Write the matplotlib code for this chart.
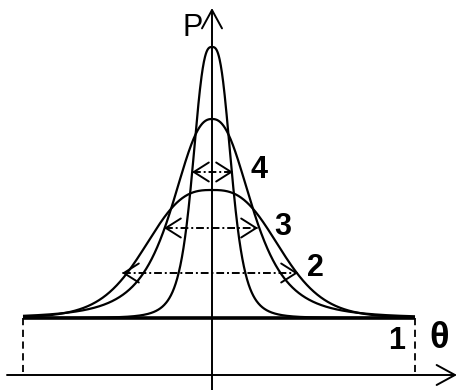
import numpy as np
import matplotlib
matplotlib.use("Agg")
import matplotlib.pyplot as plt

# three profiles, widest (2) to narrowest (4); units are pixels of the sketch
peak_heights = [128, 199, 271]
peak_widths = [116, 55, 25]
shape_p = [2.8, 2.4, 2.9]
shape_q = [3.0, 1.5, 1.5]
curve_labels = ["2", "3", "4"]

# dash-dot width markers: height, left end, right end
marker_y = [45, 90, 146]
marker_left = [-90, -48, -20]
marker_right = [86, 46, 21]

# label positions for the curve numbers
label_x = [103, 71, 47]
label_y = [50, 91, 148]

base_left, base_right = -189, 203
axis_y = -57

fig = plt.figure(figsize=(4.59, 3.90), dpi=100)
ax = fig.add_axes([0, 0, 1, 1])
ax.set_xlim(-212, 247)
ax.set_ylim(-72, 318)
ax.axis("off")

x = np.linspace(base_left, base_right, 1000)
for h, w, p, q in zip(peak_heights, peak_widths, shape_p, shape_q):
    y = h / (1 + np.abs(x / w) ** p) ** q
    ax.plot(x, y, color="black", lw=1.6, solid_capstyle="butt")

# baseline and dashed sides
ax.plot([base_left, base_right], [0, 0], color="black", lw=2.6, solid_capstyle="butt")
for bx in (base_left, base_right):
    ax.plot([bx, bx], [0, axis_y + 3], color="black", lw=1.3, ls=(0, (4, 2.5)))

# axes with arrows
head = "->, head_length=0.55, head_width=0.3"
ax.annotate("", xy=(245, axis_y), xytext=(-205, axis_y),
            arrowprops=dict(arrowstyle=head, lw=1.4, color="black",
                            mutation_scale=24, shrinkA=0, shrinkB=0))
ax.annotate("", xy=(0, 310), xytext=(0, -72),
            arrowprops=dict(arrowstyle=head, lw=1.4, color="black",
                            mutation_scale=24, shrinkA=0, shrinkB=0))

# width markers: dash-dot shaft, solid open heads
small_head = "->, head_length=0.6, head_width=0.38"
for yy, xl, xr in zip(marker_y, marker_left, marker_right):
    ax.plot([xl + 1, xr - 1], [yy, yy], color="black", lw=1.4,
            ls=(0, (4, 1.5, 1, 1.5)))
    ax.annotate("", xy=(xr, yy), xytext=(xr - 2, yy),
                arrowprops=dict(arrowstyle=small_head, lw=1.4, color="black",
                                mutation_scale=18, shrinkA=0, shrinkB=0))
    ax.annotate("", xy=(xl, yy), xytext=(xl + 2, yy),
                arrowprops=dict(arrowstyle=small_head, lw=1.4, color="black",
                                mutation_scale=18, shrinkA=0, shrinkB=0))

num_font = ["Liberation Sans Narrow", "Liberation Sans"]
for lab, lx, ly in zip(curve_labels, label_x, label_y):
    ax.text(lx, ly, lab, fontsize=22, fontweight="bold", family=num_font,
            ha="center", va="center")

ax.text(185, -23, "1", fontsize=22, fontweight="bold", family=num_font,
        ha="center", va="center")
ax.text(227, -20, "θ", fontsize=26, fontweight="bold", family="Liberation Sans",
        ha="center", va="center")
ax.text(-19, 290, "P", fontsize=22, family="Liberation Sans",
        ha="center", va="center")

fig.savefig("out.png", dpi=100)
